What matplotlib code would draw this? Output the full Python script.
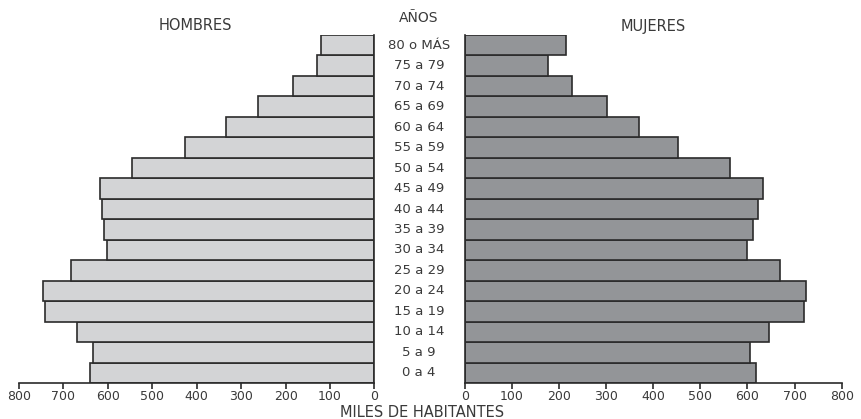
import matplotlib
matplotlib.use("Agg")
import matplotlib.pyplot as plt

plt.rcParams['font.family'] = ['DejaVu Sans']

# grupos de edad (de abajo hacia arriba)
edades = ['0 a 4', '5 a 9', '10 a 14', '15 a 19', '20 a 24', '25 a 29', '30 a 34',
          '35 a 39', '40 a 44', '45 a 49', '50 a 54', '55 a 59', '60 a 64',
          '65 a 69', '70 a 74', '75 a 79', '80 o MÁS']
# miles de habitantes
hombres = [640, 634, 670, 741, 746, 684, 603, 608, 613, 617, 546, 426, 334, 263, 183, 129, 120]
mujeres = [619, 606, 645, 720, 725, 670, 598, 611, 623, 633, 562, 453, 369, 302, 227, 176, 214]
ticks = [0, 100, 200, 300, 400, 500, 600, 700, 800]

color_h = '#d3d4d6'
color_m = '#939598'
color_txt = '#3a3a3a'
color_borde = '#2b2b2b'

W, H = 862, 419
fig = plt.figure(figsize=(W / 100, H / 100), dpi=100)

bottom = (H - 383) / H
height = 348 / H
ax_h = fig.add_axes([19 / W, bottom, 355.5 / W, height])
ax_m = fig.add_axes([464.7 / W, bottom, 377 / W, height])

y = list(range(len(edades)))
ax_h.barh(y, hombres, height=1.0, color=color_h, edgecolor=color_borde, linewidth=1.2)
ax_m.barh(y, mujeres, height=1.0, color=color_m, edgecolor=color_borde, linewidth=1.2)

for ax in (ax_h, ax_m):
    ax.set_ylim(-0.5, len(edades) - 0.5)
    ax.set_xlim(0, 800)
    ax.set_xticks(ticks)
    ax.set_yticks([])
    ax.tick_params(axis='x', direction='out', length=4, width=1.2, colors=color_borde,
                   labelcolor=color_txt, labelsize=9, pad=1)
    ax.spines['top'].set_visible(False)
    for s in ('bottom', 'left', 'right'):
        ax.spines[s].set_linewidth(1.2)
        ax.spines[s].set_color(color_borde)

ax_h.invert_xaxis()
ax_h.spines['left'].set_visible(False)
ax_m.spines['right'].set_visible(False)

# etiquetas de edad al centro
for i, lab in enumerate(edades):
    yy = ax_h.transData.transform((0, i))[1]
    fig.text(419 / W, yy / H, lab, ha='center', va='center', fontsize=9.5,
             color=color_txt)

fig.text(195 / W, 1 - 26 / H, 'HOMBRES', ha='center', va='center', fontsize=10.5, color=color_txt)
fig.text(653 / W, 1 - 26 / H, 'MUJERES', ha='center', va='center', fontsize=10.5, color=color_txt)
fig.text(419 / W, 1 - 18 / H, 'AÑOS', ha='center', va='center', fontsize=10, color=color_txt)
fig.text(422 / W, 1 - 412 / H, 'MILES DE HABITANTES', ha='center', va='center',
         fontsize=10.5, color=color_txt)

fig.savefig('out.png', dpi=100, facecolor='white')
